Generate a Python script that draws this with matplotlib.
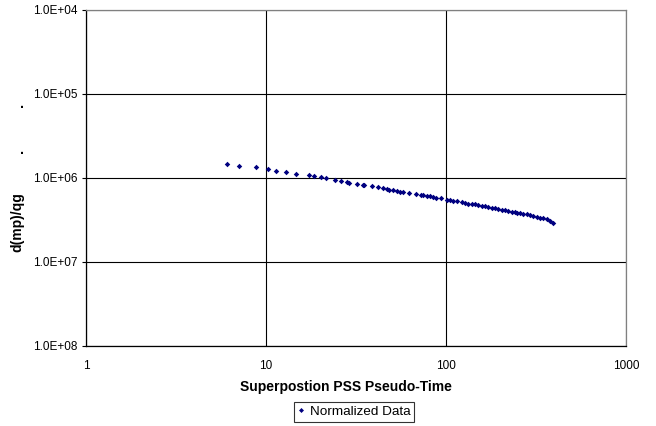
import matplotlib
matplotlib.use("Agg")
import matplotlib.pyplot as plt
from matplotlib.ticker import FixedLocator, NullLocator

plt.rcParams['font.family'] = ['Liberation Sans', 'DejaVu Sans']

x_vals = [6.10, 7.08, 8.80, 10.26, 11.41, 12.92, 14.62, 17.41, 18.55, 20.14,
          21.63, 24.17, 26.10, 28.29, 29.0, 31.9, 34.7, 35.2, 38.7, 41.9,
          44.9, 47.2, 48.4, 50.6, 53.2, 55.5, 57.9, 62.3, 68.1, 72.3,
          74.8, 78.1, 81.5, 85.0, 88.0, 93.5, 100.9, 105.2, 109.9, 114.6,
          122.2, 127.6, 133.1, 138.9, 144.9, 151.1, 157.8, 164.7, 171.8, 179.4,
          187.2, 195.3, 203.9, 212.7, 222.0, 231.7, 241.7, 247.1, 257.8, 268.9,
          280.7, 292.8, 305.5, 319.0, 332.7, 347.2, 362.4, 378.0, 391.6]
y_vals = [6.81e5, 7.14e5, 7.40e5, 7.81e5, 8.19e5, 8.48e5, 8.89e5, 9.29e5, 9.46e5, 9.81e5,
          1.009e6, 1.056e6, 1.094e6, 1.125e6, 1.137e6, 1.178e6, 1.201e6, 1.201e6, 1.245e6, 1.280e6,
          1.326e6, 1.364e6, 1.389e6, 1.400e6, 1.428e6, 1.455e6, 1.468e6, 1.496e6, 1.537e6, 1.580e6,
          1.593e6, 1.624e6, 1.651e6, 1.670e6, 1.717e6, 1.745e6, 1.813e6, 1.842e6, 1.862e6, 1.893e6,
          1.946e6, 1.985e6, 2.024e6, 2.041e6, 2.058e6, 2.096e6, 2.136e6, 2.171e6, 2.213e6, 2.257e6,
          2.294e6, 2.339e6, 2.384e6, 2.424e6, 2.472e6, 2.519e6, 2.561e6, 2.588e6, 2.610e6, 2.660e6,
          2.705e6, 2.756e6, 2.812e6, 2.890e6, 2.970e6, 3.020e6, 3.104e6, 3.250e6, 3.462e6]

x_ticks = [1, 10, 100, 1000]
x_tick_labels = ["1", "10", "100", "1000"]
y_ticks = [1e4, 1e5, 1e6, 1e7, 1e8]
y_tick_labels = ["1.0E+04", "1.0E+05", "1.0E+06", "1.0E+07", "1.0E+08"]

fig = plt.figure(figsize=(6.56, 4.26), dpi=100)
ax = fig.add_axes([86/656, 1-346/426, (626-86)/656, (346-10)/426])
ax.set_xscale('log')
ax.set_yscale('log')
ax.set_xlim(1, 1000)
ax.set_ylim(1e8, 1e4)

line, = ax.plot(x_vals, y_vals, linestyle='none', marker='D', markersize=2.8,
                color='#000080', markeredgewidth=0, label='Normalized Data')

ax.xaxis.set_major_locator(FixedLocator(x_ticks))
ax.xaxis.set_minor_locator(NullLocator())
ax.yaxis.set_major_locator(FixedLocator(y_ticks))
ax.yaxis.set_minor_locator(NullLocator())
ax.set_xticklabels(x_tick_labels)
ax.set_yticklabels(y_tick_labels)
ax.tick_params(axis='x', length=0, pad=10, labelsize=8.5)
ax.tick_params(axis='y', length=3, width=0.8, pad=3, labelsize=8.5, direction='out')

ax.grid(True, which='major', color='black', linewidth=0.8)
for s in ['left', 'bottom']:
    ax.spines[s].set_color('black')
    ax.spines[s].set_linewidth(0.9)
for s in ['right', 'top']:
    ax.spines[s].set_color('#808080')
    ax.spines[s].set_linewidth(0.9)

fig.text(346/656, 1-386.5/426, 'Superpostion PSS Pseudo-Time', fontsize=10, fontweight='bold',
         ha='center', va='center')
fig.text(17/656, 1-222/426, 'd(mp)/qg', fontsize=10, fontweight='bold', rotation=90,
         ha='center', va='center')
fig.text(21.7/656, 1-104/426, '.', fontsize=10, fontweight='bold', ha='center', va='center')
fig.text(21.7/656, 1-150.5/426, '.', fontsize=10, fontweight='bold', ha='center', va='center')

leg = fig.legend(handles=[line], loc='center', bbox_to_anchor=(354/656, 1-411.7/426),
                 fontsize=9.7, frameon=True, fancybox=False, edgecolor='black',
                 handlelength=0.5, handletextpad=0.4, borderpad=0.28, markerscale=0.9,
                 borderaxespad=0)
leg.get_frame().set_linewidth(0.8)

fig.savefig('out.png', dpi=100)
